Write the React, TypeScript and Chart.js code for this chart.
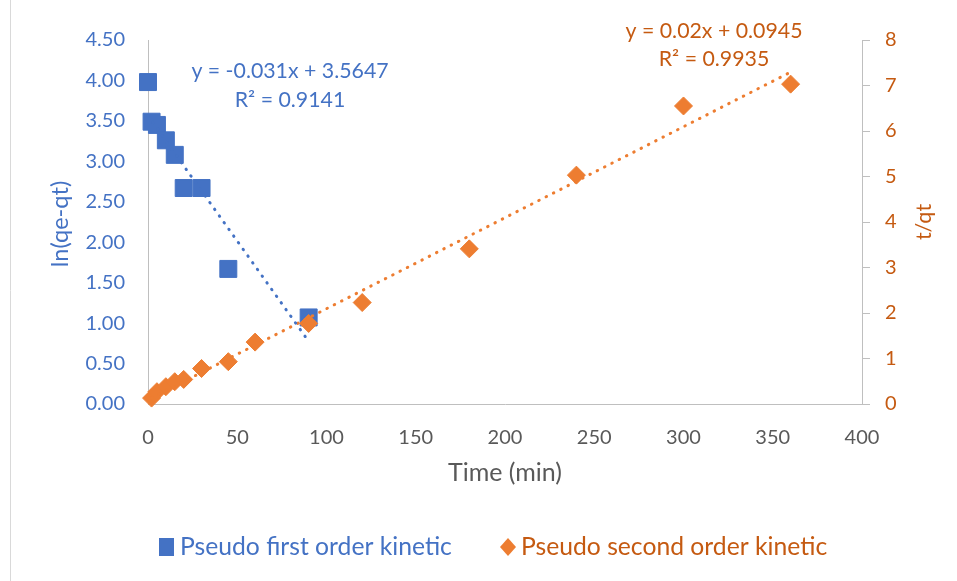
import React, { useEffect, useRef } from "react";
import { Chart, registerables } from "chart.js";

Chart.register(...registerables);

// Kinetic data: time (min) against ln(qe-qt) and t/qt
const timeFirstOrder = [0, 2, 5, 10, 15, 20, 30, 45, 90];
const lnQeQt = [3.98, 3.49, 3.45, 3.26, 3.08, 2.67, 2.67, 1.67, 1.07];

const timeSecondOrder = [2, 5, 10, 15, 20, 30, 45, 60, 90, 120, 180, 240, 300, 360];
const tOverQt = [0.13, 0.27, 0.38, 0.49, 0.54, 0.78, 0.93, 1.36, 1.77, 2.23, 3.41, 5.03, 6.55, 7.03];

// Linear fits shown on the chart
const firstOrderSlope = -0.031;
const firstOrderIntercept = 3.5647;
const firstOrderR2 = "0.9141";
const secondOrderSlope = 0.02;
const secondOrderIntercept = 0.0945;
const secondOrderR2 = "0.9935";

// Axis ranges
const xRange = [0, 400];
const xStep = 50;
const leftRange = [0, 4.5];
const leftStep = 0.5;
const rightRange = [0, 8];
const rightStep = 1;

const seriesNames = ["Pseudo first order kinetic", "Pseudo second order kinetic"];
const axisTitles = { x: "Time (min)", left: "ln(qe-qt)", right: "t/qt" };

const BLUE = "#4472C4";
const ORANGE = "#ED7D31";
const ORANGE_TEXT = "#C55A11";
const GRAY_TEXT = "#595959";
const AXIS_GRAY = "#BFBFBF";
const FONT = "Lato";

const fitLine = (xs: number[], slope: number, intercept: number) => {
  const lo = Math.min(...xs);
  const hi = Math.max(...xs);
  return [
    { x: lo, y: slope * lo + intercept },
    { x: hi, y: slope * hi + intercept },
  ];
};

const equation = (slope: number, intercept: number) =>
  `y = ${slope}x ${intercept < 0 ? "-" : "+"} ${Math.abs(intercept)}`;

const annotations = {
  id: "annotations",
  afterDraw(chart: Chart) {
    const ctx = chart.ctx;
    ctx.save();

    // chart area frame (left edge)
    ctx.strokeStyle = "#D9D9D9";
    ctx.lineWidth = 1;
    ctx.beginPath();
    ctx.moveTo(10.5, 0);
    ctx.lineTo(10.5, 581);
    ctx.stroke();

    ctx.textAlign = "center";
    ctx.textBaseline = "middle";
    ctx.font = `21.3px ${FONT}`;

    // trendline labels
    ctx.fillStyle = BLUE;
    ctx.fillText(equation(firstOrderSlope, firstOrderIntercept), 290, 71);
    ctx.fillText(`R² = ${firstOrderR2}`, 290, 100);
    ctx.fillStyle = ORANGE_TEXT;
    ctx.fillText(equation(secondOrderSlope, secondOrderIntercept), 714, 31);
    ctx.fillText(`R² = ${secondOrderR2}`, 714, 59);

    // axis titles
    ctx.font = `25px ${FONT}`;
    ctx.fillStyle = GRAY_TEXT;
    ctx.fillText(axisTitles.x, 505, 473);

    ctx.save();
    ctx.translate(60, 224);
    ctx.rotate(-Math.PI / 2);
    ctx.font = `23.5px ${FONT}`;
    ctx.fillStyle = BLUE;
    ctx.fillText(axisTitles.left, 0, 0);
    ctx.restore();

    ctx.save();
    ctx.translate(924, 222);
    ctx.rotate(-Math.PI / 2);
    ctx.font = `21.5px ${FONT}`;
    ctx.fillStyle = ORANGE_TEXT;
    ctx.fillText(axisTitles.right, 0, 0);
    ctx.restore();

    // legend
    ctx.font = `24.7px ${FONT}`;
    ctx.textAlign = "left";
    ctx.fillStyle = BLUE;
    ctx.fillRect(159, 538, 15, 18);
    ctx.fillText(seriesNames[0], 180, 547);

    ctx.fillStyle = ORANGE;
    ctx.beginPath();
    ctx.moveTo(508, 538);
    ctx.lineTo(516, 547);
    ctx.lineTo(508, 556);
    ctx.lineTo(500, 547);
    ctx.closePath();
    ctx.fill();
    ctx.fillStyle = ORANGE_TEXT;
    ctx.fillText(seriesNames[1], 521, 547);

    ctx.restore();
  },
};

export default function App() {
  const canvasRef = useRef<HTMLCanvasElement | null>(null);

  useEffect(() => {
    if (!canvasRef.current) return;
    const chart = new Chart(canvasRef.current, {
      type: "scatter",
      data: {
        datasets: [
          {
            label: "first order fit",
            data: fitLine(timeFirstOrder, firstOrderSlope, firstOrderIntercept),
            showLine: true,
            borderColor: BLUE,
            borderWidth: 3,
            borderDash: [0.5, 7.7],
            borderCapStyle: "round",
            pointRadius: 0,
            yAxisID: "y",
            order: 0,
            clip: false,
          },
          {
            label: "second order fit",
            data: fitLine(timeSecondOrder, secondOrderSlope, secondOrderIntercept),
            showLine: true,
            borderColor: ORANGE,
            borderWidth: 3,
            borderDash: [0.5, 7.7],
            borderCapStyle: "round",
            pointRadius: 0,
            yAxisID: "y1",
            order: 0,
            clip: false,
          },
          {
            label: seriesNames[1],
            data: timeSecondOrder.map((t, i) => ({ x: t, y: tOverQt[i] })),
            pointStyle: "rectRot",
            pointRadius: 9,
            backgroundColor: ORANGE,
            borderColor: ORANGE,
            borderWidth: 1,
            yAxisID: "y1",
            order: 1,
            clip: false,
          },
          {
            label: seriesNames[0],
            data: timeFirstOrder.map((t, i) => ({ x: t, y: lnQeQt[i] })),
            pointStyle: "rect",
            pointRadius: 12,
            backgroundColor: BLUE,
            borderColor: BLUE,
            borderWidth: 1,
            yAxisID: "y",
            order: 2,
            clip: false,
          },
        ],
      },
      options: {
        animation: false,
        responsive: false,
        devicePixelRatio: 1,
        layout: { padding: { top: 40, left: 0, right: 0, bottom: 0 } },
        plugins: {
          legend: { display: false },
          tooltip: { enabled: false },
        },
        scales: {
          x: {
            type: "linear",
            position: "bottom",
            min: xRange[0],
            max: xRange[1],
            ticks: {
              stepSize: xStep,
              color: GRAY_TEXT,
              font: { family: FONT, size: 20 },
              padding: 22,
              maxRotation: 0,
            },
            grid: { display: false, drawTicks: false },
            border: { display: true, color: AXIS_GRAY, width: 1 },
            afterFit: (s: any) => {
              s.height = 177;
            },
          },
          y: {
            type: "linear",
            position: "left",
            min: leftRange[0],
            max: leftRange[1],
            ticks: {
              stepSize: leftStep,
              color: BLUE,
              font: { family: FONT, size: 20 },
              padding: 23,
              callback: (v: any) => Number(v).toFixed(2),
            },
            grid: { display: false, drawTicks: false },
            border: { display: true, color: AXIS_GRAY, width: 1 },
            afterFit: (s: any) => {
              s.width = 148;
            },
          },
          y1: {
            type: "linear",
            position: "right",
            min: rightRange[0],
            max: rightRange[1],
            ticks: {
              stepSize: rightStep,
              color: ORANGE_TEXT,
              font: { family: FONT, size: 20 },
              padding: 15,
            },
            grid: {
              display: true,
              drawOnChartArea: false,
              drawTicks: true,
              tickLength: 8,
              color: AXIS_GRAY,
            },
            border: { display: true, color: AXIS_GRAY, width: 1 },
            afterFit: (s: any) => {
              s.width = 95;
            },
          },
        },
      },
      plugins: [annotations],
    });
    return () => chart.destroy();
  }, []);

  return (
    <div
      style={{
        position: "fixed",
        left: 0,
        top: 0,
        width: 957,
        height: 581,
        background: "#ffffff",
      }}
    >
      <canvas ref={canvasRef} width={957} height={581} />
    </div>
  );
}
